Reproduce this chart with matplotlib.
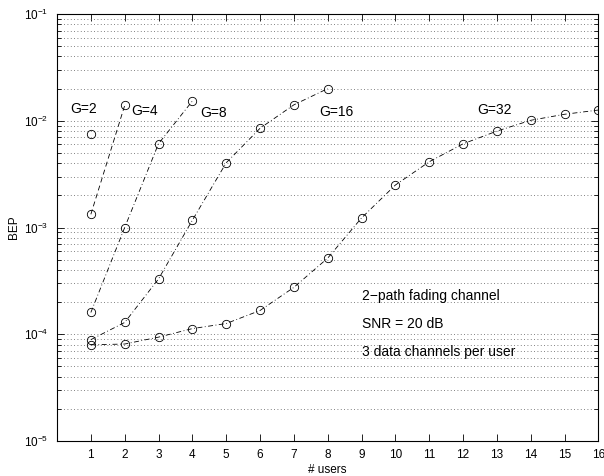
import matplotlib
matplotlib.use("Agg")
import matplotlib.pyplot as plt
from matplotlib.ticker import LogLocator, NullFormatter

plt.rcParams['font.family'] = ['Liberation Sans', 'DejaVu Sans']
plt.rcParams['mathtext.fontset'] = 'custom'
plt.rcParams['mathtext.rm'] = 'Liberation Sans'

# BEP versus number of users for several spreading gains G
users_g2 = [1]
bep_g2 = [7.5e-3]

users_g4 = [1, 2]
bep_g4 = [1.33e-3, 1.39e-2]

users_g8 = [1, 2, 3, 4]
bep_g8 = [1.6e-4, 1.0e-3, 6.1e-3, 1.53e-2]

users_g16 = [1, 2, 3, 4, 5, 6, 7, 8]
bep_g16 = [8.9e-5, 1.29e-4, 3.3e-4, 1.17e-3, 4.04e-3, 8.5e-3, 1.41e-2, 2.0e-2]

users_g32 = list(range(1, 17))
bep_g32 = [7.96e-5, 8.1e-5, 9.4e-5, 1.13e-4, 1.26e-4, 1.67e-4, 2.75e-4, 5.17e-4,
           1.23e-3, 2.5e-3, 4.13e-3, 6.08e-3, 8.0e-3, 1.01e-2, 1.15e-2, 1.26e-2]

gain_labels = ['G=2', 'G=4', 'G=8', 'G=16', 'G=32']
notes = ['2\u2212path fading channel', 'SNR = 20 dB', '3 data channels per user']

fig = plt.figure(figsize=(6.04, 4.76), dpi=100)
ax = fig.add_axes([0.0944, 0.0735, 0.8964, 0.8971])

mk = dict(marker='o', ms=6, mfc='none', mec='black', mew=0.6, color='black', lw=0.6)
ax.plot(users_g2, bep_g2, linestyle='none', **mk)
ax.plot(users_g4, bep_g4, linestyle=(0, (6, 4)), **mk)
ax.plot(users_g8, bep_g8, linestyle=(0, (6, 3, 1, 3)), **mk)
ax.plot(users_g16, bep_g16, linestyle=(0, (6, 3, 1, 3)), **mk)
ax.plot(users_g32, bep_g32, linestyle=(0, (6, 3, 1, 3)), **mk)

ax.set_yscale('log')
ax.set_xlim(0, 16)
ax.set_ylim(1e-5, 1e-1)
ax.set_xticks(range(1, 17))
ax.yaxis.set_major_locator(LogLocator(base=10, numticks=10))
ax.yaxis.set_minor_locator(LogLocator(base=10, subs=range(2, 10), numticks=20))
ax.yaxis.set_minor_formatter(NullFormatter())

ax.tick_params(which='both', direction='in', top=True, right=True,
               labelsize=8.5, width=0.6)
ax.tick_params(which='major', length=5, pad=6)
ax.tick_params(which='minor', length=3)
for s in ax.spines.values():
    s.set_linewidth(0.8)

# horizontal dotted grid only
ax.grid(True, which='both', axis='y', linestyle=(0, (1, 3)), color='0.35', lw=0.6)
ax.set_axisbelow(True)

ax.set_xlabel('# users', fontsize=8.5, labelpad=2)
ax.set_ylabel('BEP', fontsize=8.5, labelpad=3)

label_pos = [(0.40, 1.29e-2), (2.20, 1.23e-2), (4.24, 1.17e-2),
             (7.74, 1.21e-2), (12.43, 1.26e-2)]
for (x, y), t in zip(label_pos, gain_labels):
    ax.text(x, y, t, fontsize=10, va='center', ha='left')

for y, t in zip([2.28e-4, 1.24e-4, 6.8e-5], notes):
    ax.text(9.0, y, t, fontsize=10, va='center', ha='left')

fig.savefig('out.png', dpi=100)
